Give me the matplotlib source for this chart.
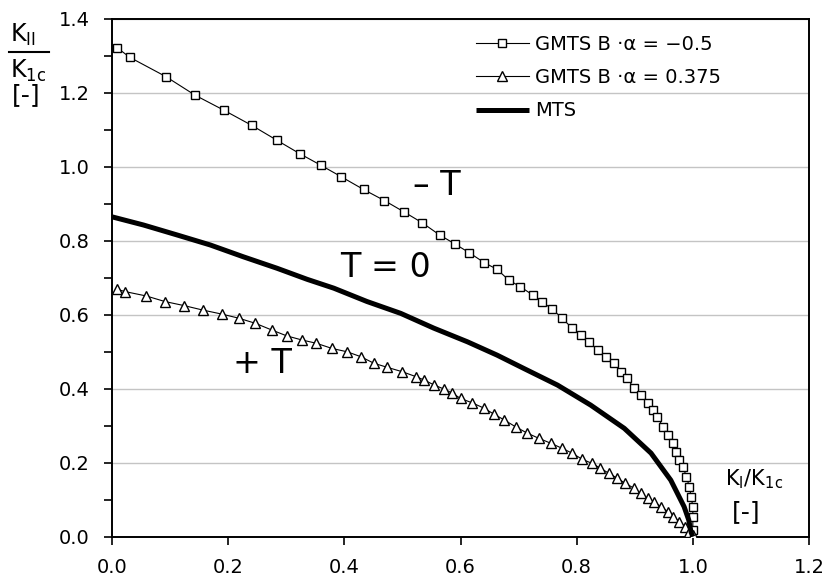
import matplotlib
matplotlib.use("Agg")
import matplotlib.pyplot as plt
from matplotlib.lines import Line2D

plt.rcParams['font.family'] = ['DejaVu Sans']
plt.rcParams['mathtext.default'] = 'regular'

# GMTS, B*alpha = -0.5 (squares)
sq_x = [0.009, 0.031, 0.093, 0.143, 0.193, 0.241, 0.284, 0.323, 0.359, 0.394,
        0.433, 0.469, 0.502, 0.534, 0.564, 0.590, 0.615, 0.641, 0.663, 0.683,
        0.703, 0.724, 0.741, 0.758, 0.775, 0.792, 0.807, 0.821, 0.836, 0.850,
        0.864, 0.876, 0.887, 0.899, 0.910, 0.922, 0.931, 0.939, 0.948, 0.957,
        0.966, 0.971, 0.977, 0.983, 0.989, 0.994, 0.997, 1.000, 1.000, 1.000]
sq_y = [1.322, 1.296, 1.244, 1.194, 1.153, 1.112, 1.072, 1.036, 1.005, 0.974,
        0.939, 0.909, 0.879, 0.849, 0.816, 0.792, 0.768, 0.741, 0.723, 0.694,
        0.676, 0.654, 0.635, 0.615, 0.591, 0.564, 0.545, 0.527, 0.505, 0.487,
        0.469, 0.446, 0.428, 0.401, 0.383, 0.361, 0.343, 0.325, 0.298, 0.275,
        0.253, 0.230, 0.207, 0.189, 0.162, 0.135, 0.108, 0.081, 0.054, 0.018]

# GMTS, B*alpha = 0.375 (triangles)
tr_x = [0.009, 0.022, 0.059, 0.091, 0.124, 0.156, 0.189, 0.218, 0.247, 0.275,
        0.301, 0.327, 0.352, 0.379, 0.405, 0.428, 0.451, 0.474, 0.500, 0.523,
        0.537, 0.555, 0.572, 0.586, 0.600, 0.620, 0.640, 0.658, 0.675, 0.695,
        0.715, 0.735, 0.755, 0.775, 0.792, 0.810, 0.827, 0.841, 0.856, 0.870,
        0.884, 0.899, 0.910, 0.922, 0.933, 0.945, 0.957, 0.966, 0.977, 0.986,
        0.994, 1.000]
tr_y = [0.669, 0.663, 0.651, 0.636, 0.625, 0.613, 0.602, 0.591, 0.577, 0.559,
        0.543, 0.532, 0.523, 0.509, 0.500, 0.487, 0.469, 0.458, 0.446, 0.433,
        0.424, 0.410, 0.399, 0.388, 0.374, 0.362, 0.348, 0.331, 0.316, 0.297,
        0.280, 0.266, 0.253, 0.239, 0.226, 0.209, 0.198, 0.185, 0.171, 0.158,
        0.144, 0.131, 0.117, 0.104, 0.095, 0.081, 0.068, 0.054, 0.041, 0.027,
        0.014, 0.005]

# MTS (thick line)
mts_x = [0.000, 0.054, 0.112, 0.169, 0.226, 0.284, 0.336, 0.382, 0.439, 0.497,
         0.554, 0.612, 0.663, 0.709, 0.767, 0.824, 0.882, 0.928, 0.962, 0.985,
         0.993, 0.997, 1.000]
mts_y = [0.865, 0.843, 0.816, 0.789, 0.757, 0.726, 0.696, 0.672, 0.636, 0.604,
         0.564, 0.527, 0.491, 0.455, 0.410, 0.356, 0.293, 0.226, 0.153, 0.081,
         0.045, 0.012, 0.000]

labels = ["GMTS B \u00b7\u03b1 = \u22120.5", "GMTS B \u00b7\u03b1 = 0.375", "MTS"]
x_ticks = [0.0, 0.2, 0.4, 0.6, 0.8, 1.0, 1.2]
y_ticks = [0.0, 0.2, 0.4, 0.6, 0.8, 1.0, 1.2, 1.4]

W, H = 830, 579
fig = plt.figure(figsize=(8.3, 5.79), dpi=100)
ax = fig.add_axes([112 / W, 1 - 536.7 / H, (809 - 112) / W, (536.7 - 19) / H])

ax.plot(sq_x, sq_y, color='black', lw=0.8, marker='s', ms=6, mfc='white',
        mec='black', mew=1.0, label=labels[0], zorder=3)
ax.plot(tr_x, tr_y, color='black', lw=0.8, marker='^', ms=6.5, mfc='white',
        mec='black', mew=1.0, label=labels[1], zorder=3)
ax.plot(mts_x, mts_y, color='black', lw=3.6, solid_capstyle='butt',
        solid_joinstyle='round', label=labels[2], zorder=4)

ax.set_xlim(0, 1.2)
ax.set_ylim(0, 1.4)
ax.set_xticks(x_ticks)
ax.set_xticklabels([f"{v:.1f}" for v in x_ticks])
ax.set_yticks(y_ticks)
ax.set_yticklabels([f"{v:.1f}" for v in y_ticks])
ax.set_yticks([0.1, 0.3, 0.5, 0.7, 0.9, 1.1, 1.3], minor=True)
ax.tick_params(axis='both', which='both', direction='out', length=6,
               width=1.2, color='black', labelsize=14)
ax.tick_params(axis='x', pad=9)
ax.tick_params(axis='y', pad=10)
ax.yaxis.grid(True, which='major', color='#c4c4c4', lw=1.0)
ax.set_axisbelow(True)
for s in ax.spines.values():
    s.set_linewidth(1.4)
    s.set_color('black')

# curve annotations
ax.text(0.519, 0.924, "\u2013 T", fontsize=24, ha='left', va='baseline')
ax.text(0.393, 0.702, "T = 0", fontsize=24, ha='left', va='baseline')
ax.text(0.209, 0.443, "+ T", fontsize=24, ha='left', va='baseline')

leg = ax.legend(loc='upper left', bbox_to_anchor=(476 / W, 1 - 35 / H),
                bbox_transform=fig.transFigure, frameon=False, fontsize=14,
                borderpad=0, borderaxespad=0, handlelength=2.7,
                handletextpad=0.35, labelspacing=0.73, numpoints=1)

# y label as fraction
fig.text(10 / W, 1 - 42 / H, "K$_{II}$", fontsize=17, ha='left', va='baseline')
fig.add_artist(Line2D([9 / W, 49 / W], [1 - 52 / H, 1 - 52 / H],
                      color='black', lw=1.5, transform=fig.transFigure))
fig.text(10 / W, 1 - 78 / H, "K$_{1c}$", fontsize=17, ha='left', va='baseline')
fig.text(26 / W, 1 - 95 / H, "[-]", fontsize=18, ha='center', va='center')

# x label
fig.text(725 / W, 1 - 485 / H, "K$_{I}$/K$_{1c}$", fontsize=15, ha='left', va='baseline')
fig.text(746 / W, 1 - 512 / H, "[-]", fontsize=18, ha='center', va='center')

fig.savefig("out.png", dpi=100)
